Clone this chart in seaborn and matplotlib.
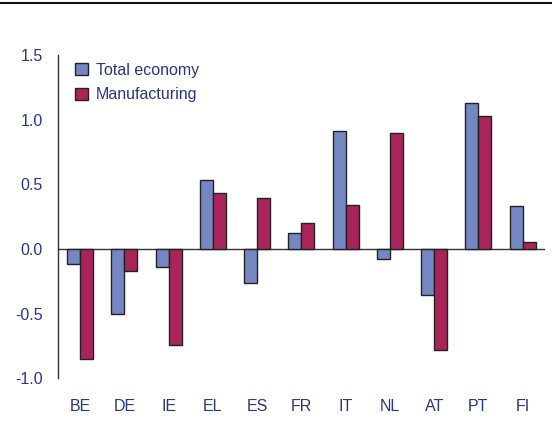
import matplotlib
matplotlib.use("Agg")
import matplotlib.pyplot as plt
import seaborn as sns
import pandas as pd
from matplotlib.lines import Line2D
from matplotlib.patches import Patch

countries = ["BE", "DE", "IE", "EL", "ES", "FR", "IT", "NL", "AT", "PT", "FI"]
total_economy = [-0.12, -0.50, -0.14, 0.53, -0.26, 0.12, 0.91, -0.08, -0.36, 1.13, 0.33]
manufacturing = [-0.85, -0.17, -0.74, 0.43, 0.39, 0.20, 0.34, 0.90, -0.78, 1.03, 0.05]
series_names = ["Total economy", "Manufacturing"]
y_ticks = [-1.0, -0.5, 0.0, 0.5, 1.0, 1.5]

df = pd.DataFrame({
    "country": countries * 2,
    "value": total_economy + manufacturing,
    "series": [series_names[0]] * len(countries) + [series_names[1]] * len(countries),
})

sns.set_theme(style="white")
plt.rcParams["font.family"] = ["Liberation Sans", "DejaVu Sans"]
text_color = "#283785"
colors = {"Total economy": "#7587C2", "Manufacturing": "#A8245A"}

fig = plt.figure(figsize=(5.52, 4.23), dpi=100)
ax = fig.add_axes([0.105, 0.106, 0.882, 0.764])

sns.barplot(data=df, x="country", y="value", hue="series", palette=colors,
            order=countries, hue_order=series_names, width=0.59, saturation=1,
            edgecolor="#222222", linewidth=1.0, ax=ax, legend=False)

ax.set_ylim(-1.0, 1.5)
ax.set_xlim(-0.5, len(countries) - 0.5)
ax.set_yticks(y_ticks)
ax.set_yticklabels([f"{v:.1f}" for v in y_ticks])
ax.set_xlabel("")
ax.set_ylabel("")
ax.axhline(0, color="#333333", linewidth=1.0, zorder=0.5)
for s in ["top", "right", "bottom"]:
    ax.spines[s].set_visible(False)
ax.spines["left"].set_color("#333333")
ax.spines["left"].set_linewidth(1.0)
ax.tick_params(axis="y", length=0, pad=11, labelsize=11.5, labelcolor=text_color)
ax.tick_params(axis="x", length=0, pad=15, labelsize=11.5, labelcolor=text_color)

handles = [Patch(facecolor=colors[n], edgecolor="#222222", linewidth=1.0) for n in series_names]
leg = ax.legend(handles, series_names, loc="upper left", bbox_to_anchor=(0.005, 1.02),
                frameon=False, fontsize=11.5, handlelength=0.8, handleheight=0.8,
                handletextpad=0.5, labelspacing=0.6)
for t in leg.get_texts():
    t.set_color(text_color)

fig.add_artist(Line2D([0, 1], [0.994, 0.994], color="#111111", linewidth=1.5,
                      transform=fig.transFigure))

fig.savefig("out.png", dpi=100)
